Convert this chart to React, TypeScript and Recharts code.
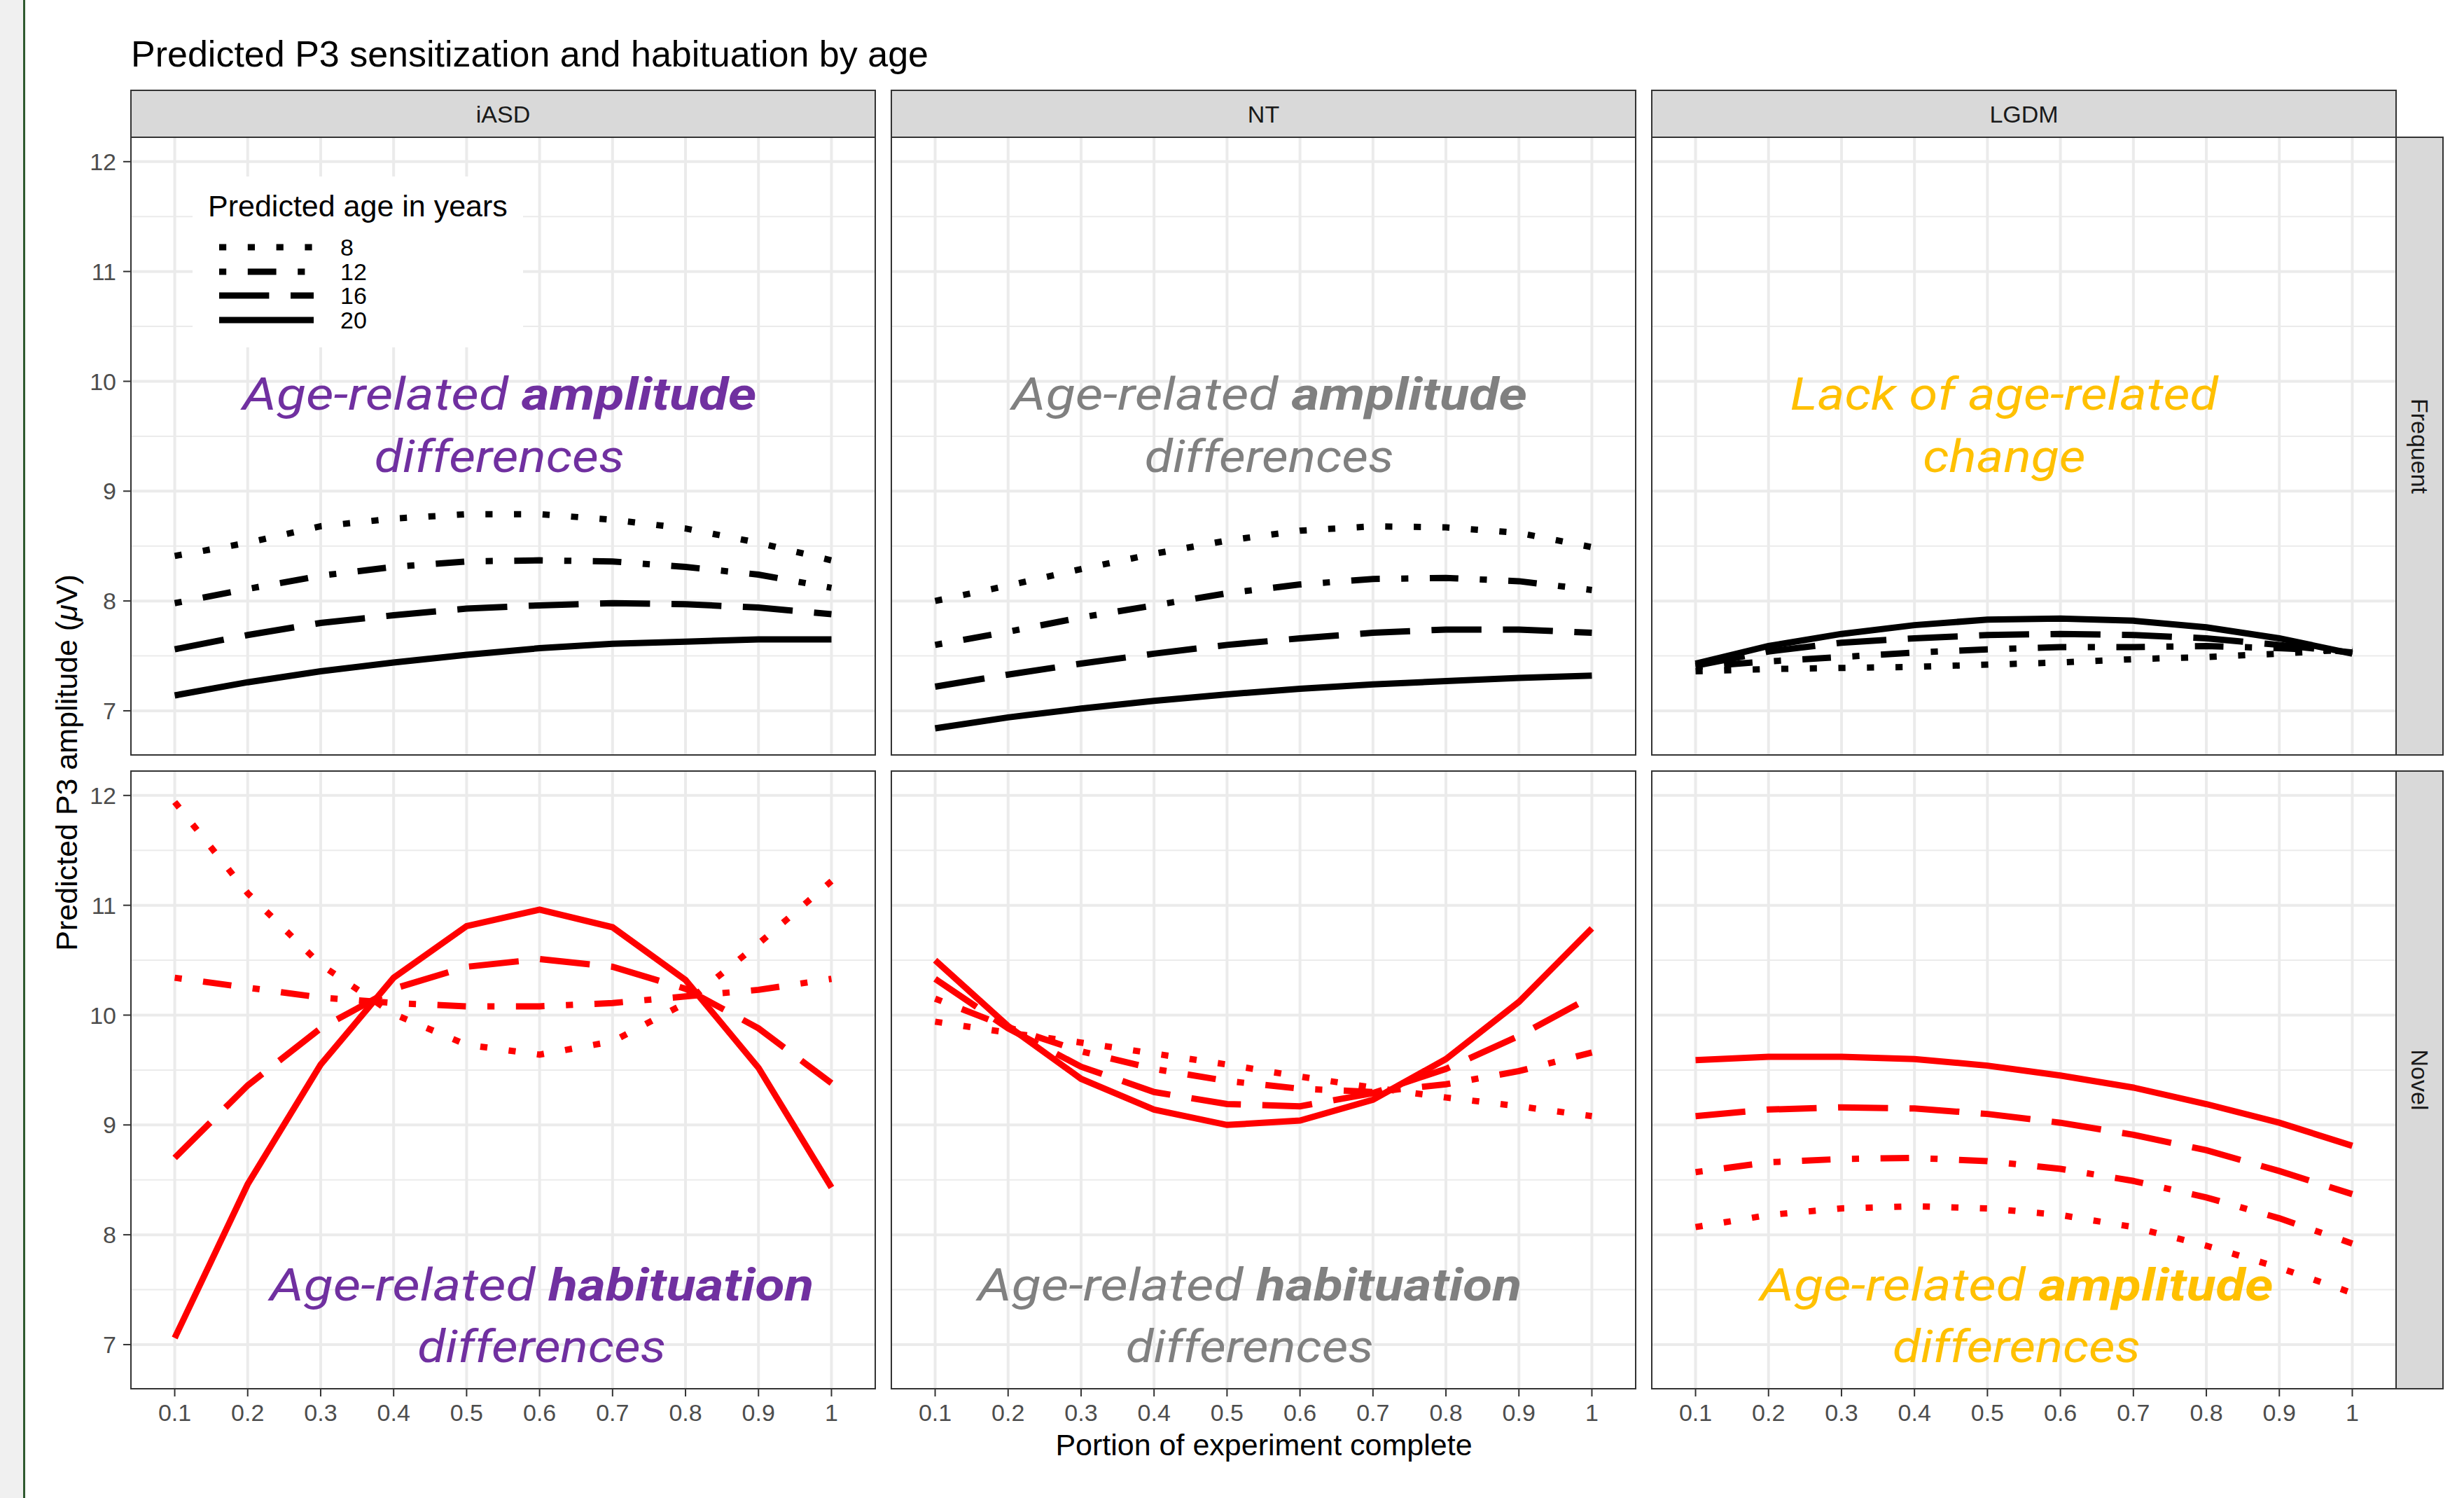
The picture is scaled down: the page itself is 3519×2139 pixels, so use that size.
import React from 'react';
import { LineChart, Line, XAxis, YAxis, CartesianGrid, ReferenceDot } from 'recharts';

// ---------- data ----------
const portion = [0.1, 0.2, 0.3, 0.4, 0.5, 0.6, 0.7, 0.8, 0.9, 1.0];
const ages = ['8', '12', '16', '20'];
const groups = ['iASD', 'NT', 'LGDM'];
const conditions = ['Frequent', 'Novel'];
const yTicks = [7, 8, 9, 10, 11, 12];
const yMinor = [7.5, 8.5, 9.5, 10.5, 11.5];

// Frequent
const freqIasd8 = [8.41, 8.53, 8.68, 8.75, 8.79, 8.79, 8.74, 8.66, 8.53, 8.37];
const freqIasd12 = [7.98, 8.11, 8.23, 8.31, 8.36, 8.37, 8.36, 8.31, 8.24, 8.12];
const freqIasd16 = [7.56, 7.69, 7.8, 7.87, 7.93, 7.96, 7.98, 7.97, 7.94, 7.88];
const freqIasd20 = [7.14, 7.26, 7.36, 7.44, 7.51, 7.57, 7.61, 7.63, 7.65, 7.65];

const freqNt8 = [8.0, 8.14, 8.29, 8.43, 8.55, 8.64, 8.68, 8.67, 8.62, 8.49];
const freqNt12 = [7.6, 7.72, 7.85, 7.96, 8.07, 8.15, 8.2, 8.21, 8.18, 8.1];
const freqNt16 = [7.22, 7.33, 7.43, 7.52, 7.6, 7.66, 7.71, 7.74, 7.74, 7.71];
const freqNt20 = [6.84, 6.94, 7.02, 7.09, 7.15, 7.2, 7.24, 7.27, 7.3, 7.32];

const freqLgdm8 = [7.36, 7.38, 7.39, 7.4, 7.42, 7.44, 7.47, 7.49, 7.52, 7.56];
const freqLgdm12 = [7.4, 7.45, 7.49, 7.53, 7.56, 7.58, 7.58, 7.59, 7.57, 7.54];
const freqLgdm16 = [7.41, 7.54, 7.62, 7.66, 7.69, 7.7, 7.69, 7.66, 7.6, 7.53];
const freqLgdm20 = [7.43, 7.59, 7.7, 7.78, 7.83, 7.84, 7.82, 7.76, 7.66, 7.52];

// Novel
const novIasd8 = [11.94, 11.11, 10.46, 10.01, 9.73, 9.64, 9.76, 10.11, 10.65, 11.22];
const novIasd12 = [10.34, 10.25, 10.16, 10.11, 10.08, 10.08, 10.11, 10.17, 10.23, 10.33];
const novIasd16 = [8.7, 9.36, 9.88, 10.24, 10.44, 10.51, 10.44, 10.24, 9.88, 9.38];
const novIasd20 = [7.06, 8.46, 9.55, 10.34, 10.81, 10.96, 10.8, 10.32, 9.52, 8.43];

const novNt8 = [9.94, 9.84, 9.75, 9.65, 9.55, 9.44, 9.34, 9.25, 9.17, 9.08];
const novNt12 = [10.15, 9.89, 9.67, 9.51, 9.4, 9.33, 9.3, 9.37, 9.49, 9.66];
const novNt16 = [10.33, 9.88, 9.53, 9.3, 9.19, 9.17, 9.29, 9.51, 9.81, 10.17];
const novNt20 = [10.5, 9.9, 9.42, 9.14, 9.0, 9.04, 9.23, 9.6, 10.12, 10.79];

const novLgdm8 = [8.07, 8.18, 8.24, 8.26, 8.24, 8.18, 8.07, 7.9, 7.7, 7.47];
const novLgdm12 = [8.57, 8.66, 8.69, 8.7, 8.67, 8.6, 8.49, 8.34, 8.15, 7.92];
const novLgdm16 = [9.08, 9.14, 9.16, 9.15, 9.1, 9.02, 8.91, 8.77, 8.58, 8.37];
const novLgdm20 = [9.59, 9.62, 9.62, 9.6, 9.54, 9.45, 9.34, 9.19, 9.02, 8.81];

// annotation texts
const annotPre = ['Age-related ', 'Age-related ', 'Lack of age-related', 'Age-related ', 'Age-related ', 'Age-related '];
const annotBold = ['amplitude', 'amplitude', '', 'habituation', 'habituation', 'amplitude'];
const annotLine2 = ['differences', 'differences', 'change', 'differences', 'differences', 'differences'];
const annotX = [0.545, 0.558, 0.523, 0.603, 0.531, 0.54];
const annotY = [9.74, 9.74, 9.74, 7.4, 7.4, 7.4];

// ---------- styles / layout ----------
const FONT = '"Liberation Sans", Arial, Helvetica, sans-serif';
const AFONT = 'Roboto, "Open Sans", sans-serif';
const PANEL_X = [187, 1273, 2359];
const PANEL_Y = [196, 1101];
const PANEL_W = 1063;
const PANEL_H = 882;
const STRIP = 67;
const X_DOMAIN: [number, number] = [0.04, 1.06];
const Y_DOMAIN: [number, number] = [6.598, 12.222];
const YAXIS_W = 150;
const XAXIS_H = 70;
const U = 10.2;
const DASH = [`${U} ${3 * U}`, `${U} ${3 * U} ${4 * U} ${3 * U}`, `${7 * U} ${3 * U}`, undefined];
const LW = 9;
const ROW_COLOR = ['#000000', '#FF0000'];
const ANNOT_COLOR = ['#7030A0', '#808080', '#FFC000'];
const ANNOT_W1 = [734, 736, 611, 777, 777, 733];
const ANNOT_W2 = [357, 356, 232, 355, 354, 354];
const ANNOT_GAP = [89, 88];

const panelSeries = [
  [
    [freqIasd8, freqIasd12, freqIasd16, freqIasd20],
    [freqNt8, freqNt12, freqNt16, freqNt20],
    [freqLgdm8, freqLgdm12, freqLgdm16, freqLgdm20],
  ],
  [
    [novIasd8, novIasd12, novIasd16, novIasd20],
    [novNt8, novNt12, novNt16, novNt20],
    [novLgdm8, novLgdm12, novLgdm16, novLgdm20],
  ],
];

function Annotation(props: any) {
  const { cx, cy, idx, row, col } = props;
  const color = ANNOT_COLOR[col];
  return (
    <g>
      <text
        x={cx}
        y={cy}
        textAnchor="middle"
        fontFamily={AFONT}
        fontStyle="italic"
        fontSize={64}
        fill={color}
        textLength={ANNOT_W1[idx]}
        lengthAdjust="spacingAndGlyphs"
      >
        <tspan>{annotPre[idx]}</tspan>
        {annotBold[idx] ? <tspan fontWeight="bold">{annotBold[idx]}</tspan> : null}
      </text>
      <text
        x={cx}
        y={cy + ANNOT_GAP[row]}
        textAnchor="middle"
        fontFamily={AFONT}
        fontStyle="italic"
        fontSize={64}
        fill={color}
        textLength={ANNOT_W2[idx]}
        lengthAdjust="spacingAndGlyphs"
      >
        {annotLine2[idx]}
      </text>
    </g>
  );
}

function Panel({ row, col }: { row: number; col: number }) {
  const showY = col === 0;
  const showX = row === 1;
  const series = panelSeries[row][col];
  const data = portion.map((x, i) => ({
    x,
    a8: series[0][i],
    a12: series[1][i],
    a16: series[2][i],
    a20: series[3][i],
  }));
  const w = PANEL_W + (showY ? YAXIS_W : 0);
  const h = PANEL_H + (showX ? XAXIS_H : 0);
  const idx = row * 3 + col;
  const color = ROW_COLOR[row];
  return (
    <div style={{ position: 'absolute', left: PANEL_X[col] - (showY ? YAXIS_W : 0), top: PANEL_Y[row], width: w, height: h }}>
      <LineChart width={w} height={h} data={data} margin={{ top: 0, right: 0, bottom: 0, left: 0 }}>
        <XAxis
          dataKey="x"
          type="number"
          domain={X_DOMAIN}
          ticks={portion}
          interval={0}
          allowDataOverflow
          hide={!showX}
          height={XAXIS_H}
          axisLine={false}
          tickSize={11}
          tickMargin={11}
          tickLine={{ stroke: '#333333', strokeWidth: 2 }}
          tick={{ fill: '#4D4D4D', fontSize: 34, fontFamily: FONT }}
          tickFormatter={(v: number) => String(Math.round(v * 10) / 10)}
        />
        <YAxis
          type="number"
          domain={Y_DOMAIN}
          ticks={yTicks}
          interval={0}
          allowDataOverflow
          hide={!showY}
          width={YAXIS_W}
          axisLine={false}
          tickSize={11}
          tickMargin={10}
          tickLine={{ stroke: '#333333', strokeWidth: 2 }}
          tick={{ fill: '#4D4D4D', fontSize: 34, fontFamily: FONT }}
        />
        <CartesianGrid horizontalValues={yMinor} vertical={false} stroke="#EBEBEB" strokeWidth={2} />
        <CartesianGrid horizontalValues={yTicks} verticalValues={portion} stroke="#EBEBEB" strokeWidth={4} />
        <ReferenceDot
          x={annotX[idx]}
          y={annotY[idx]}
          r={0}
          shape={(p: any) => <Annotation {...p} idx={idx} row={row} col={col} />}
        />
        {ages.map((a, k) => (
          <Line
            key={a}
            dataKey={'a' + a}
            type="linear"
            stroke={color}
            strokeWidth={LW}
            strokeDasharray={DASH[k]}
            dot={false}
            activeDot={false}
            isAnimationActive={false}
          />
        ))}
      </LineChart>
    </div>
  );
}

function Overlay() {
  const legendRowY = [353, 388, 422, 457];
  return (
    <svg width={3519} height={2139} style={{ position: 'absolute', left: 0, top: 0, pointerEvents: 'none' }}>
      <rect x={0} y={0} width={33} height={2139} fill="#F0F0F0" />
      <rect x={33} y={0} width={3} height={2139} fill="#2F5A2F" />
      <text x={187} y={95} fontFamily={FONT} fontSize={52} fill="#000">
        Predicted P3 sensitization and habituation by age
      </text>
      {groups.map((g, c) => (
        <g key={g}>
          <rect x={PANEL_X[c]} y={PANEL_Y[0] - STRIP} width={PANEL_W} height={STRIP} fill="#D9D9D9" stroke="#333333" strokeWidth={2} />
          <text x={PANEL_X[c] + PANEL_W / 2} y={PANEL_Y[0] - STRIP / 2} textAnchor="middle" dominantBaseline="central" fontFamily={FONT} fontSize={34} fill="#1A1A1A">
            {g}
          </text>
        </g>
      ))}
      {conditions.map((cnd, r) => (
        <g key={cnd}>
          <rect x={PANEL_X[2] + PANEL_W} y={PANEL_Y[r]} width={STRIP} height={PANEL_H} fill="#D9D9D9" stroke="#333333" strokeWidth={2} />
          <text
            x={PANEL_X[2] + PANEL_W + STRIP / 2}
            y={PANEL_Y[r] + PANEL_H / 2}
            textAnchor="middle"
            dominantBaseline="central"
            fontFamily={FONT}
            fontSize={34}
            fill="#1A1A1A"
            transform={`rotate(90 ${PANEL_X[2] + PANEL_W + STRIP / 2} ${PANEL_Y[r] + PANEL_H / 2})`}
          >
            {cnd}
          </text>
        </g>
      ))}
      {PANEL_Y.map((py) =>
        PANEL_X.map((px) => (
          <rect key={px + '-' + py} x={px} y={py} width={PANEL_W} height={PANEL_H} fill="none" stroke="#333333" strokeWidth={2} />
        ))
      )}
      {/* legend */}
      <rect x={275} y={252} width={472} height={244} fill="#FFFFFF" />
      <text x={297} y={309} fontFamily={FONT} fontSize={43} fill="#000">
        Predicted age in years
      </text>
      {ages.map((a, k) => (
        <g key={a}>
          <line x1={313} x2={448} y1={legendRowY[k]} y2={legendRowY[k]} stroke="#000" strokeWidth={LW} strokeDasharray={DASH[k]} />
          <text x={486} y={legendRowY[k]} dominantBaseline="central" fontFamily={FONT} fontSize={34} fill="#000">
            {a}
          </text>
        </g>
      ))}
      {/* axis titles */}
      <text x={1805} y={2078} textAnchor="middle" fontFamily={FONT} fontSize={43} fill="#000">
        Portion of experiment complete
      </text>
      <text
        x={110}
        y={1089}
        textAnchor="middle"
        fontFamily={FONT}
        fontSize={43}
        fill="#000"
        transform="rotate(-90 110 1089)"
      >
        Predicted P3 amplitude (<tspan fontStyle="italic">μ</tspan>V)
      </text>
    </svg>
  );
}

export default function App() {
  return (
    <div style={{ position: 'absolute', left: 0, top: 0, width: 3519, height: 2139, background: '#FFFFFF', overflow: 'hidden' }}>
      {[0, 1].map((r) => [0, 1, 2].map((c) => <Panel key={r + '-' + c} row={r} col={c} />))}
      <Overlay />
    </div>
  );
}
